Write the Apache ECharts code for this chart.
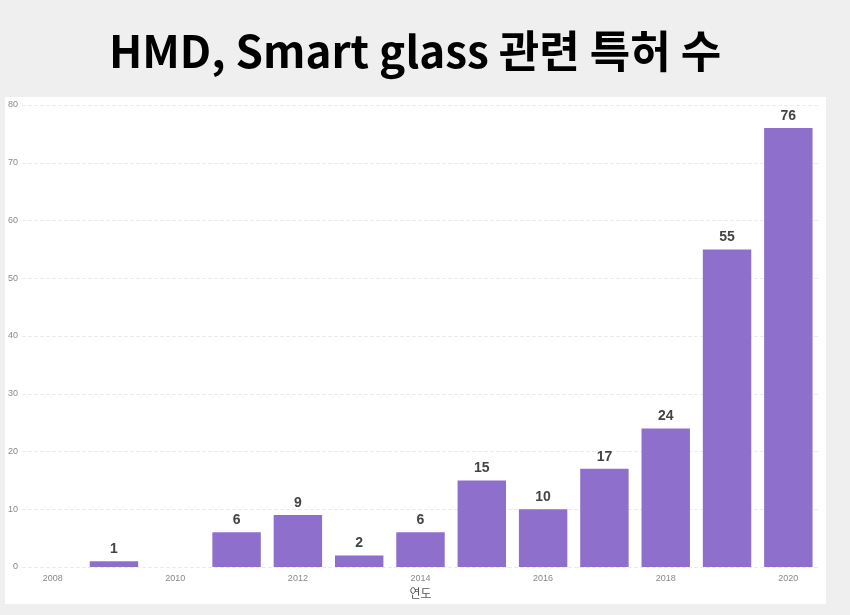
<!DOCTYPE html>
<html><head><meta charset="utf-8">
<script src="https://cdn.jsdelivr.net/npm/echarts@6/dist/echarts.min.js"></script>
<style>html,body{margin:0;padding:0;background:#efefef;}#c{width:850px;height:615px;}</style>
</head><body><div id="c"></div>
<script>
const years = ['2008','2009','2010','2011','2012','2013','2014','2015','2016','2017','2018','2019','2020'];
const patents = [null,1,null,6,9,2,6,15,10,17,24,55,76];
const yTicks = {min:0, max:80, interval:10};
const titleText = 'HMD, Smart glass 관련 특허 수';
const axisTitle = '연도';

const chart = echarts.init(document.getElementById('c'));
chart.setOption({
  backgroundColor:'#efefef',
  animation:false,
  title:{text:titleText,left:104,top:24,textStyle:{fontFamily:'Noto Sans CJK KR',fontWeight:'bold',fontSize:44,color:'#000'}},
  graphic:[{type:'rect',z:-10,shape:{x:5,y:97,width:821,height:507},style:{fill:'#ffffff'}}],
  grid:{left:22,right:31,top:105,bottom:48},
  xAxis:{type:'category',data:years,name:axisTitle,nameLocation:'middle',nameGap:20,
    nameTextStyle:{color:'#555',fontSize:12,fontFamily:'Noto Sans CJK KR'},
    axisLine:{show:false},axisTick:{show:false},
    axisLabel:{interval:1,color:'#888',fontSize:9,margin:7}},
  yAxis:{type:'value',min:yTicks.min,max:yTicks.max,interval:yTicks.interval,
    axisLabel:{color:'#888',fontSize:9,margin:4},
    splitLine:{lineStyle:{color:'#ececec',type:'dashed'}}},
  series:[{type:'bar',data:patents,barWidth:'79%',itemStyle:{color:'#8e6fcc'},
    label:{show:true,position:'top',distance:5,color:'#444',fontWeight:'bold',fontSize:14,fontFamily:'Liberation Sans'}}]
});
</script></body></html>
